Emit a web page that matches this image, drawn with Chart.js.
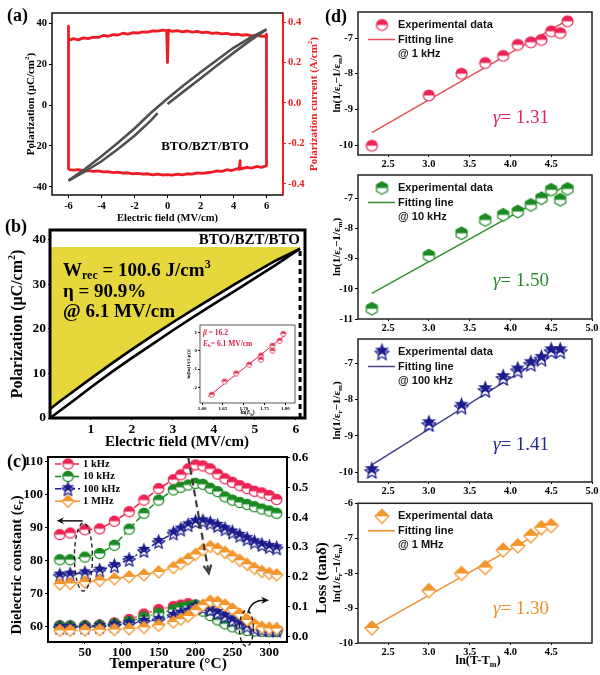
<!DOCTYPE html>
<html>
<head>
<meta charset="utf-8">
<title>BTO/BZT/BTO</title>
<script src="https://cdn.jsdelivr.net/npm/chart.js@4.4.1/dist/chart.umd.min.js"></script>
<style>
  html, body { margin: 0; padding: 0; background: #fff; }
  #fig { position: relative; width: 600px; height: 675px; overflow: hidden; background: #fff; }
  #fig canvas { position: absolute; }
</style>
</head>
<body>
<div id="fig">
  <canvas id="chA" width="330" height="226" style="left:0;top:0;width:330px;height:226px"></canvas>
  <canvas id="chB" width="330" height="235" style="left:0;top:215px;width:330px;height:235px"></canvas>
  <canvas id="chInset" width="115" height="100" style="left:185px;top:318px;width:115px;height:100px"></canvas>
  <canvas id="chC" width="340" height="230" style="left:0;top:445px;width:340px;height:230px"></canvas>
  <canvas id="chD1" width="275" height="170" style="left:325px;top:0;width:275px;height:170px"></canvas>
  <canvas id="chD2" width="275" height="170" style="left:325px;top:165px;width:275px;height:170px"></canvas>
  <canvas id="chD3" width="275" height="168" style="left:325px;top:330px;width:275px;height:168px"></canvas>
  <canvas id="chD4" width="275" height="180" style="left:325px;top:495px;width:275px;height:180px"></canvas>
</div>
<script>
// ---------------- data ----------------
// (a) bipolar P-E loop (uC/cm2) and polarization current (A/cm2) vs field (MV/cm)
const peUpE = [6, 5, 4, 3, 2, 1, 0, -1, -2, -3, -4, -5, -6];
const peUpP = [37, 32.8, 28, 22, 16, 9.8, 3.2, -3.8, -11.5, -18.5, -25, -31.3, -37];
const peLoE1 = [-6, -5, -4, -3, -2, -1, -0.6];
const peLoP1 = [-37, -32.5, -27.5, -21.5, -15, -7.5, -4];
const peLoE2 = [0, 1, 2, 3, 4, 5, 6];
const peLoP2 = [0.5, 6.8, 13, 19.3, 25.5, 31.5, 37];

const curTopE = [-6, -6, -6, -5.7, -5.4, -5.1, -4.8, -4.5, -4.2, -3.9, -3.6, -3.3, -3.0, -2.7, -2.4, -2.1, -1.8, -1.5, -1.2, -0.9, -0.6, -0.3, -0.05, 0.0, 0.05, 0.3, 0.6, 0.9, 1.2, 1.5, 1.8, 2.1, 2.4, 2.7, 3.0, 3.3, 3.6, 3.9, 4.2, 4.5, 4.8, 5.1, 5.4, 5.7, 5.95, 6.0];
const curTopJ = [-0.33, 0.38, 0.31, 0.318, 0.312, 0.322, 0.318, 0.326, 0.324, 0.334, 0.33, 0.338, 0.336, 0.345, 0.34, 0.348, 0.346, 0.352, 0.35, 0.357, 0.355, 0.36, 0.358, 0.2, 0.36, 0.354, 0.358, 0.352, 0.356, 0.35, 0.354, 0.348, 0.35, 0.344, 0.347, 0.342, 0.344, 0.338, 0.34, 0.335, 0.338, 0.332, 0.334, 0.33, 0.33, 0.34];
const curBotE = [6.0, 5.7, 5.4, 5.1, 4.8, 4.45, 4.4, 4.35, 4.2, 3.9, 3.6, 3.3, 3.0, 2.7, 2.4, 2.1, 1.8, 1.5, 1.2, 0.9, 0.6, 0.3, 0.0, -0.3, -0.6, -0.9, -1.2, -1.5, -1.8, -2.1, -2.4, -2.7, -3.0, -3.3, -3.6, -3.9, -4.2, -4.5, -4.8, -5.1, -5.4, -5.7, -6.0];
const curBotJ = [-0.31, -0.318, -0.314, -0.322, -0.318, -0.326, -0.285, -0.328, -0.325, -0.334, -0.33, -0.338, -0.336, -0.342, -0.345, -0.348, -0.346, -0.352, -0.35, -0.355, -0.352, -0.357, -0.354, -0.356, -0.352, -0.355, -0.35, -0.352, -0.348, -0.35, -0.345, -0.347, -0.342, -0.344, -0.34, -0.341, -0.336, -0.338, -0.334, -0.335, -0.33, -0.332, -0.33];
const aFieldTicks = [-6, -4, -2, 0, 2, 4, 6];
const aPolTicks = [-40, -20, 0, 20, 40];
const aCurTicks = [-0.4, -0.2, 0, 0.2, 0.4];

// (b) unipolar loop at 6.1 MV/cm
const bField = [0, 0.25, 0.5, 1, 1.5, 2, 2.5, 3, 3.5, 4, 4.5, 5, 5.5, 6.1];
const bPolDis = [2.0, 3.8, 5.5, 8.9, 12.2, 15.4, 18.5, 21.5, 24.4, 27.2, 30.0, 32.7, 35.3, 38.0];
const bPolCha = [0, 1.7, 3.4, 6.9, 10.3, 13.5, 16.6, 19.7, 22.7, 25.6, 28.5, 31.4, 34.3, 38.0];
const bEmax = 6.1, bPmax = 38, bPfill = 38.4;
const bFieldTicks = [1, 2, 3, 4, 5, 6];
const bPolTicks = [0, 10, 20, 30, 40];

// (b) inset: Weibull plot
const wLnE = [1.623, 1.654, 1.682, 1.713, 1.741, 1.741, 1.769, 1.769, 1.786, 1.795];
const wLnP = [-2.4, -1.68, -1.24, -0.76, -0.27, -0.49, 0.27, 0.0, 0.54, 0.92];
const wFitX = [1.615, 1.80];
const wFitY = [-2.5, 0.85];
const wXTicks = [1.60, 1.65, 1.70, 1.75, 1.80];
const wYTicks = [-2, -1, 0, 1];

// (c) dielectric constant and loss vs temperature
const temps = [16, 30, 50, 70, 90, 110, 130, 150, 170, 180, 190, 200, 210, 220, 230, 240, 250, 260, 270, 280, 290, 300, 310];
const eps1k = [87.8, 88.3, 89.3, 89.6, 91.9, 94.8, 98.3, 101.8, 104.5, 106, 107.8, 109, 108.7, 107.8, 106.2, 104.8, 103.7, 102.7, 101.8, 101, 100.5, 99.7, 98.5];
const eps10k = [80.2, 80.2, 81.0, 82.1, 84.6, 89.5, 94.3, 98.3, 101.4, 102.2, 102.9, 103.4, 103.1, 101.9, 100.9, 99.3, 98.3, 97.6, 97.0, 96.3, 95.6, 95.0, 94.3];
const eps100k = [75.5, 75.8, 76.2, 77, 78.4, 80.3, 83, 85.7, 88.3, 89.5, 90.8, 91.8, 92, 91.4, 90.6, 89.6, 88.6, 87.6, 86.6, 85.6, 84.8, 84.2, 83.8];
const eps1M = [72.8, 73, 73.4, 73.9, 74.4, 75, 75.6, 76.5, 77.8, 79, 80.4, 81.8, 83.2, 84.2, 83.5, 82.4, 81.2, 80, 78.8, 77.6, 76.6, 76, 75.6];
const loss1k = [0.035, 0.035, 0.036, 0.038, 0.045, 0.057, 0.075, 0.09, 0.10, 0.105, 0.11, 0.105, 0.09, 0.075, 0.06, 0.045, 0.035, 0.028, 0.022, 0.02, 0.018, 0.017, 0.017];
const loss10k = [0.035, 0.035, 0.035, 0.037, 0.042, 0.05, 0.065, 0.078, 0.09, 0.097, 0.102, 0.105, 0.085, 0.07, 0.055, 0.042, 0.032, 0.025, 0.02, 0.018, 0.017, 0.016, 0.016];
const loss100k = [0.03, 0.03, 0.031, 0.033, 0.037, 0.043, 0.05, 0.056, 0.07, 0.078, 0.085, 0.10, 0.097, 0.09, 0.08, 0.068, 0.055, 0.045, 0.035, 0.028, 0.024, 0.022, 0.021];
const loss1M = [0.02, 0.02, 0.021, 0.022, 0.023, 0.025, 0.03, 0.037, 0.048, 0.058, 0.068, 0.088, 0.105, 0.118, 0.115, 0.105, 0.092, 0.075, 0.055, 0.04, 0.03, 0.027, 0.026];
const cTempTicks = [50, 100, 150, 200, 250, 300];
const cEpsTicks = [60, 70, 80, 90, 100, 110];
const cLossTicks = [0, 0.1, 0.2, 0.3, 0.4, 0.5, 0.6];

// (d) modified Curie-Weiss fits, ln(1/er - 1/em) vs ln(T - Tm)
const lnDT = [2.30, 3.00, 3.40, 3.69, 3.91, 4.09, 4.25, 4.38, 4.50, 4.61, 4.70];
const d1Y = [-10.02, -8.61, -8.0, -7.7, -7.5, -7.19, -7.12, -7.05, -6.81, -6.86, -6.53];
const d2Y = [-10.66, -8.9, -8.16, -7.72, -7.55, -7.44, -7.22, -7.0, -6.72, -7.05, -6.69];
const d3Y = [-9.95, -8.66, -8.18, -7.72, -7.39, -7.18, -7.0, -6.86, -6.65, -6.65];
const d4Y = [-9.57, -8.5, -8.01, -7.84, -7.34, -7.22, -6.93, -6.70, -6.64];
const d1FitX = [2.3, 4.7], d1FitY = [-9.65, -6.5];
const d2FitX = [2.3, 4.7], d2FitY = [-10.15, -6.55];
const d3FitX = [2.3, 4.61], d3FitY = [-9.8, -6.55];
const d4FitX = [2.3, 4.5], d4FitY = [-9.55, -6.66];
const dXTicksShort = [2.5, 3.0, 3.5, 4.0, 4.5];
const dXTicksLong = [2.5, 3.0, 3.5, 4.0, 4.5, 5.0];

// ---------------- helpers ----------------
const SERIF = '"Liberation Serif", "Times New Roman", serif';
const SANS = '"Liberation Sans", Arial, sans-serif';
const RED = '#ee1c24', GRAY = '#505050', YEL = '#e6d73c';
const C1k = '#ec2455', C10k = '#1b8a22', C100k = '#1b1c8c', C1M = '#f3962c';

const pts = (xs, ys) => xs.map((x, i) => ({ x, y: ys[i] }));
const T = (t, m, it) => ({ t, m, it });

function rich(ctx, parts, x, y, o) {
  const size = o.size;
  ctx.save();
  ctx.translate(x, y);
  if (o.rot) ctx.rotate(o.rot);
  ctx.textBaseline = 'middle';
  ctx.textAlign = 'left';
  const font = p => `${p.it ? 'italic ' : ''}${o.weight || 'bold'} ${p.m ? Math.round(size * 0.65) : size}px ${o.family || SERIF}`;
  let total = 0;
  for (const p of parts) { ctx.font = font(p); total += ctx.measureText(p.t).width; }
  let cx = o.align === 'left' ? 0 : o.align === 'right' ? -total : -total / 2;
  ctx.fillStyle = o.color || '#000';
  for (const p of parts) {
    ctx.font = font(p);
    const dy = p.m === 'sub' ? size * 0.28 : p.m === 'sup' ? -size * 0.32 : 0;
    ctx.fillText(p.t, cx, dy);
    cx += ctx.measureText(p.t).width;
  }
  ctx.restore();
}

function mk(shape, color, r, lw = 1.2) {
  const s = Math.ceil(2 * r + 6 + (shape === 'star' ? r * 0.5 : 0));
  const c = document.createElement('canvas');
  c.width = s; c.height = s;
  const g = c.getContext('2d');
  g.translate(s / 2, s / 2);
  g.lineWidth = lw; g.strokeStyle = color; g.lineJoin = 'round';
  const path = dy => {
    g.beginPath();
    if (shape === 'circle') { g.arc(0, dy, r, 0, 2 * Math.PI); return; }
    let v;
    if (shape === 'hexagon') v = [0, 1, 2, 3, 4, 5].map(k => { const a = (-90 + 60 * k) * Math.PI / 180; return [r * Math.cos(a), r * Math.sin(a)]; });
    else if (shape === 'diamond') v = [[0, -r], [r, 0], [0, r], [-r, 0]];
    else v = [...Array(10).keys()].map(k => { const a = (-90 + 36 * k) * Math.PI / 180, rr = k % 2 ? r * 0.42 : r; return [rr * Math.cos(a), rr * Math.sin(a)]; });
    v.forEach((p, i) => i ? g.lineTo(p[0], p[1] + dy) : g.moveTo(p[0], p[1] + dy));
    g.closePath();
  };
  if (shape === 'star') {
    const off = r * 0.22;
    path(off); g.fillStyle = '#fff'; g.fill(); g.stroke();
    path(-off); g.fillStyle = color; g.fill();
  } else {
    path(0); g.fillStyle = '#fff'; g.fill();
    g.save(); g.beginPath(); g.rect(-s, -s, 2 * s, s); g.clip();
    path(0); g.fillStyle = color; g.fill(); g.restore();
    path(0); g.stroke();
  }
  return c;
}

function axis(pos, min, max, ticks, o = {}) {
  return {
    type: 'linear', position: pos, min, max,
    afterFit: s => { if (pos === 'left' || pos === 'right') s.width = o.size; else s.height = o.size; },
    afterBuildTicks: s => { s.ticks = ticks.map(v => ({ value: v })); },
    ticks: {
      autoSkip: false, maxRotation: 0, padding: o.pad ?? 2,
      color: o.color || '#000',
      font: { family: SERIF, size: o.fs || 10, weight: 'bold' },
      callback: v => (o.fmt ? o.fmt(v) : String(v))
    },
    grid: { drawOnChartArea: false, drawTicks: true, tickLength: o.tl ?? 3, color: o.color || '#000', lineWidth: 1 },
    border: { display: false }
  };
}

function box(ctx, a, lw, color) {
  ctx.save();
  ctx.strokeStyle = color || '#000';
  ctx.lineWidth = lw;
  ctx.strokeRect(a.left, a.top, a.right - a.left, a.bottom - a.top);
  ctx.restore();
}

function head(ctx, x, y, ang, len, w, color) {
  ctx.save();
  ctx.translate(x, y); ctx.rotate(ang);
  ctx.beginPath();
  ctx.moveTo(0, 0); ctx.lineTo(-len, -w); ctx.lineTo(-len * 0.7, 0); ctx.lineTo(-len, w);
  ctx.closePath();
  ctx.fillStyle = color; ctx.fill();
  ctx.restore();
}

function makeChart(id, datasets, scales, padding, draw, before) {
  return new Chart(document.getElementById(id), {
    type: 'scatter',
    data: { datasets },
    options: {
      responsive: false, animation: false, events: [],
      layout: { padding },
      plugins: { legend: { display: false }, tooltip: { enabled: false } },
      scales
    },
    plugins: [{
      id: 'overlay',
      beforeDatasetsDraw: c => { if (before) before(c, c.ctx, c.chartArea); },
      afterDraw: c => draw(c, c.ctx, c.chartArea)
    }]
  });
}

// ---------------- (a) ----------------
makeChart('chA', [
  { data: pts(peUpE, peUpP), showLine: true, borderColor: GRAY, borderWidth: 2.6, pointRadius: 0 },
  { data: pts(peLoE1, peLoP1), showLine: true, borderColor: GRAY, borderWidth: 2.6, pointRadius: 0 },
  { data: pts(peLoE2, peLoP2), showLine: true, borderColor: GRAY, borderWidth: 2.6, pointRadius: 0 },
  { data: pts(curTopE.concat(curBotE), curTopJ.concat(curBotJ)), yAxisID: 'y2', showLine: true,
    borderColor: RED, borderWidth: 2.8, pointRadius: 0, borderJoinStyle: 'round' }
], {
  x: axis('bottom', -7, 7, aFieldTicks, { size: 31, fs: 10.5 }),
  y: axis('left', -44, 45, aPolTicks, { size: 52, fs: 10.5 }),
  y2: axis('right', -0.455, 0.445, aCurTicks, { size: 47, fs: 10.5, color: RED, fmt: v => v.toFixed(1) })
}, { top: 13 }, (c, ctx, a) => {
  box(ctx, a, 1.4, '#000');
  ctx.save(); ctx.strokeStyle = RED; ctx.lineWidth = 2;
  ctx.beginPath(); ctx.moveTo(a.right, a.top); ctx.lineTo(a.right, a.bottom); ctx.stroke(); ctx.restore();
  rich(ctx, [T('(a)')], 7, 16, { size: 18, align: 'left' });
  rich(ctx, [T('Polarization (μC/cm'), T('2', 'sup'), T(')')], 31, (a.top + a.bottom) / 2, { size: 11, rot: -Math.PI / 2 });
  rich(ctx, [T('Polarization current (A/cm'), T('2', 'sup'), T(')')], 314, (a.top + a.bottom) / 2, { size: 11, rot: -Math.PI / 2, color: RED });
  rich(ctx, [T('Electric field (MV/cm)')], (a.left + a.right) / 2, 218, { size: 10.5 });
  rich(ctx, [T('BTO/BZT/BTO')], 205, 147, { size: 13 });
});

// ---------------- (b) ----------------
makeChart('chB', [
  { data: pts([bEmax, bEmax], [0, bPmax]), showLine: true, borderColor: '#000', borderWidth: 3, borderDash: [5, 4], pointRadius: 0 },
  { data: pts(bField, bPolCha), showLine: true, borderColor: '#000', borderWidth: 2.6, pointRadius: 0 },
  { data: pts(bField, bPolDis), showLine: true, borderColor: '#000', borderWidth: 2.6, pointRadius: 0,
    fill: { value: bPfill }, backgroundColor: YEL }
], {
  x: axis('bottom', 0, 6.22, bFieldTicks, { size: 32, fs: 13.5, tl: 2, pad: 1 }),
  y: axis('left', 0, 42.2, bPolTicks, { size: 50, fs: 13.5, tl: 2 })
}, { top: 15, right: 25 }, (c, ctx, a) => {
  box(ctx, a, 3, '#000');
  rich(ctx, [T('(b)')], 5, 12, { size: 18, align: 'left' });
  rich(ctx, [T('Polarization (μC/cm'), T('2', 'sup'), T(')')], 18, (a.top + a.bottom) / 2, { size: 16, rot: -Math.PI / 2 });
  rich(ctx, [T('Electric field (MV/cm)')], 177, 227.5, { size: 15 });
  rich(ctx, [T('BTO/BZT/BTO')], a.right - 5, 25, { size: 15, align: 'right' });
  rich(ctx, [T('W'), T('rec', 'sub'), T(' = 100.6 J/cm'), T('3', 'sup')], 63, 56, { size: 19, align: 'left' });
  rich(ctx, [T('η = 90.9%')], 63, 77, { size: 19, align: 'left' });
  rich(ctx, [T('@ 6.1 MV/cm')], 63, 97, { size: 19, align: 'left' });
});

// (b) inset
const inMark = mk('circle', '#e23355', 2.6, 0.8);
makeChart('chInset', [
  { data: pts(wLnE, wLnP), pointStyle: inMark, pointRadius: 3 },
  { data: pts(wFitX, wFitY), showLine: true, borderColor: '#e0204a', borderWidth: 1, pointRadius: 0 }
], {
  x: axis('bottom', 1.595, 1.823, wXTicks, { size: 15, fs: 5, tl: 2, pad: 1, fmt: v => v.toFixed(2) }),
  y: axis('left', -2.85, 1.4, wYTicks, { size: 15, fs: 5, tl: 2, pad: 1 })
}, { top: 7, right: 5 }, (c, ctx, a) => {
  box(ctx, a, 0.8, '#333');
  rich(ctx, [T('ln[ln(1/(1-p))]')], 4, (a.top + a.bottom) / 2, { size: 5, rot: -Math.PI / 2 });
  rich(ctx, [T('ln('), T('E', '', true), T('b', 'sub'), T(')')], (a.left + a.right) / 2, 95, { size: 5.5 });
  rich(ctx, [T('β', '', true), T(' = 16.2')], a.left + 3, a.top + 8, { size: 7.5, align: 'left', color: '#e0204a' });
  rich(ctx, [T('E', '', true), T('b', 'sub'), T('= 6.1 MV/cm')], a.left + 3, a.top + 19, { size: 7.5, align: 'left', color: '#e0204a' });
}, (c, ctx, a) => {
  ctx.save(); ctx.fillStyle = '#fff'; ctx.fillRect(a.left, a.top, a.right - a.left, a.bottom - a.top); ctx.restore();
});

// ---------------- (c) ----------------
const m1k = mk('circle', C1k, 5.2), m10k = mk('circle', C10k, 5.2);
const m100k = mk('star', C100k, 6.5), m1M = mk('diamond', C1M, 6);
const cSeries = [
  { eps: eps1M, loss: loss1M, c: C1M, m: m1M, dash: [], name: '1 MHz' },
  { eps: eps100k, loss: loss100k, c: C100k, m: m100k, dash: [6, 3, 2, 3], name: '100 kHz' },
  { eps: eps10k, loss: loss10k, c: C10k, m: m10k, dash: [6, 3], name: '10 kHz' },
  { eps: eps1k, loss: loss1k, c: C1k, m: m1k, dash: [6, 3], name: '1 kHz' }
];
const cSets = [];
cSeries.forEach(s => {
  cSets.push({ data: pts(temps, s.loss), yAxisID: 'y2', showLine: true, borderColor: s.c, borderWidth: 1.2,
    borderDash: [2, 2], pointStyle: s.m, pointRadius: 5 });
});
cSeries.forEach(s => {
  cSets.push({ data: pts(temps, s.eps), showLine: true, borderColor: s.c, borderWidth: 1.5,
    borderDash: s.dash, pointStyle: s.m, pointRadius: 5 });
});
makeChart('chC', cSets, {
  x: axis('bottom', 0, 324, cTempTicks, { size: 33, fs: 13, tl: 2, pad: 1 }),
  y: axis('left', 55.2, 111.4, cEpsTicks, { size: 48, fs: 13 }),
  y2: axis('right', -0.019, 0.603, cLossTicks, { size: 53, fs: 13, fmt: v => v.toFixed(1) })
}, { top: 12 }, (c, ctx, a) => {
  const X = c.scales.x, Y = c.scales.y, Y2 = c.scales.y2;
  box(ctx, a, 2, '#000');
  rich(ctx, [T('(c)')], 7, 17, { size: 18, align: 'left' });
  rich(ctx, [T('Dielectric constant (ε'), T('r', 'sub'), T(')')], 17, 120, { size: 14.5, rot: -Math.PI / 2 });
  rich(ctx, [T('Loss (tanδ)')], 322, 133, { size: 15, rot: -Math.PI / 2 });
  rich(ctx, [T('Temperature (°C)')], 168, 219, { size: 15.5 });

  // legend
  const leg = [cSeries[3], cSeries[2], cSeries[1], cSeries[0]];
  leg.forEach((s, i) => {
    const y = 19 + i * 12.4;
    ctx.save(); ctx.strokeStyle = s.c; ctx.lineWidth = 1.5; ctx.setLineDash(s.dash);
    ctx.beginPath(); ctx.moveTo(55, y); ctx.lineTo(80, y); ctx.stroke(); ctx.restore();
    ctx.drawImage(s.m, 68 - s.m.width / 2, y - s.m.height / 2);
    rich(ctx, [T(s.name)], 83, y, { size: 10.5, align: 'left' });
  });

  ctx.save();
  // arrow to the left axis
  const ay = Y.getPixelForValue(92);
  ctx.strokeStyle = '#111'; ctx.lineWidth = 1.5;
  ctx.beginPath(); ctx.moveTo(X.getPixelForValue(47), ay); ctx.lineTo(X.getPixelForValue(18), ay); ctx.stroke();
  head(ctx, X.getPixelForValue(12), ay, Math.PI, 7, 3.5, '#111');
  // dashed ellipses
  ctx.setLineDash([4, 3]); ctx.lineWidth = 1.3;
  ctx.beginPath(); ctx.ellipse(X.getPixelForValue(48), Y.getPixelForValue(81), 9, 34, 0, 0, 2 * Math.PI); ctx.stroke();
  ctx.beginPath(); ctx.ellipse(X.getPixelForValue(269), Y2.getPixelForValue(0.027), 7, 18, 0, 0, 2 * Math.PI); ctx.stroke();
  // big dashed arrow (peak shift)
  const x1 = X.getPixelForValue(190), y1 = Y.getPixelForValue(111.4);
  const x2 = X.getPixelForValue(218), y2 = Y.getPixelForValue(76.1);
  const ang = Math.atan2(y2 - y1, x2 - x1);
  ctx.strokeStyle = '#3c3c3c'; ctx.lineWidth = 2.2; ctx.setLineDash([7, 4]);
  ctx.beginPath(); ctx.moveTo(x1, y1); ctx.lineTo(x2 - 3 * Math.cos(ang), y2 - 3 * Math.sin(ang)); ctx.stroke();
  ctx.setLineDash([]);
  ctx.beginPath();
  ctx.moveTo(x2 - 9 * Math.cos(ang - 0.45), y2 - 9 * Math.sin(ang - 0.45));
  ctx.lineTo(x2, y2);
  ctx.lineTo(x2 - 9 * Math.cos(ang + 0.45), y2 - 9 * Math.sin(ang + 0.45));
  ctx.stroke();
  // curved arrow to the right axis
  ctx.strokeStyle = '#111'; ctx.lineWidth = 1.5;
  const sx = X.getPixelForValue(271), sy = Y2.getPixelForValue(0.078);
  const ex = X.getPixelForValue(293), ey = Y2.getPixelForValue(0.121);
  ctx.beginPath(); ctx.moveTo(sx, sy);
  ctx.quadraticCurveTo(X.getPixelForValue(275), ey, ex, ey); ctx.stroke();
  head(ctx, ex + 5, ey, 0, 8, 3.5, '#111');
  ctx.restore();
});

// ---------------- (d) ----------------
function dChart(id, o) {
  return makeChart(id, [
    { data: pts(o.x, o.y), pointStyle: o.m, pointRadius: 6 },
    { data: pts(o.fx, o.fy), showLine: true, borderColor: o.lc, borderWidth: 1.5, pointRadius: 0 }
  ], {
    x: axis('bottom', 2.13, 5.0, o.xt, { size: o.xh, fs: 10.5, tl: 2, pad: 1, fmt: v => v.toFixed(1) }),
    y: axis('left', o.ymin, o.ymax, o.yt, { size: 33, fs: 10.5 })
  }, { top: o.pt, right: 8 }, (c, ctx, a) => {
    box(ctx, a, 1.5, '#222');
    rich(ctx, [T('ln(1/ε'), T('r', 'sub'), T('−1/ε'), T('m', 'sub'), T(')')], 12, (a.top + a.bottom) / 2, { size: 11, rot: -Math.PI / 2 });
    ctx.drawImage(o.m, a.left + 24 - o.m.width / 2, a.top + 13 - o.m.height / 2);
    ctx.save(); ctx.strokeStyle = o.lc; ctx.lineWidth = 1.5;
    ctx.beginPath(); ctx.moveTo(a.left + 10, a.top + 27.5); ctx.lineTo(a.left + 37, a.top + 27.5); ctx.stroke(); ctx.restore();
    rich(ctx, [T('Experimental data')], a.left + 40, a.top + 13, { size: 11, family: SANS, align: 'left', color: '#111' });
    rich(ctx, [T('Fitting line')], a.left + 40, a.top + 27.5, { size: 11, family: SANS, align: 'left', color: '#111' });
    rich(ctx, [T('@ ' + o.freq)], a.left + 40, a.top + 42, { size: 11, family: SANS, align: 'left', color: '#111' });
    rich(ctx, [T('γ', '', true), T('= ' + o.gamma)], a.left + 163, a.top + 106, { size: 19, weight: 'normal', color: o.c });
    if (o.dLabel) rich(ctx, [T('(d)')], 0, 17, { size: 18, align: 'left' });
    if (o.xTitle) rich(ctx, [T('ln(T-T'), T('m', 'sub'), T(')')], (a.left + a.right) / 2 + 3, 166, { size: 12.5 });
  });
}

dChart('chD1', { x: lnDT, y: d1Y, fx: d1FitX, fy: d1FitY, m: mk('circle', C1k, 5.5), c: '#e0245a', lc: '#e5505c',
  ymin: -10.28, ymax: -6.27, yt: [-10, -9, -8, -7], xt: dXTicksShort, xh: 15, pt: 12, freq: '1 kHz', gamma: '1.31', dLabel: true });
dChart('chD2', { x: lnDT, y: d2Y, fx: d2FitX, fy: d2FitY, m: mk('hexagon', C10k, 6.3), c: '#2a8a2a', lc: '#2f8f2f',
  ymin: -11, ymax: -6.23, yt: [-11, -10, -9, -8, -7], xt: dXTicksLong, xh: 16, pt: 10, freq: '10 kHz', gamma: '1.50' });
dChart('chD3', { x: lnDT.slice(0, 10), y: d3Y, fx: d3FitX, fy: d3FitY, m: mk('star', C100k, 7.5), c: '#1f2a8a', lc: '#45478a',
  ymin: -10.27, ymax: -6.33, yt: [-10, -9, -8, -7], xt: dXTicksLong, xh: 16, pt: 9, freq: '100 kHz', gamma: '1.41' });
dChart('chD4', { x: lnDT.slice(0, 9), y: d4Y, fx: d4FitX, fy: d4FitY, m: mk('diamond', C1M, 7), c: '#ee8e2c', lc: '#ef8f2f',
  ymin: -10, ymax: -6, yt: [-10, -9, -8, -7, -6], xt: dXTicksShort, xh: 32, pt: 7, freq: '1 MHz', gamma: '1.30', xTitle: true });
</script>
</body>
</html>
